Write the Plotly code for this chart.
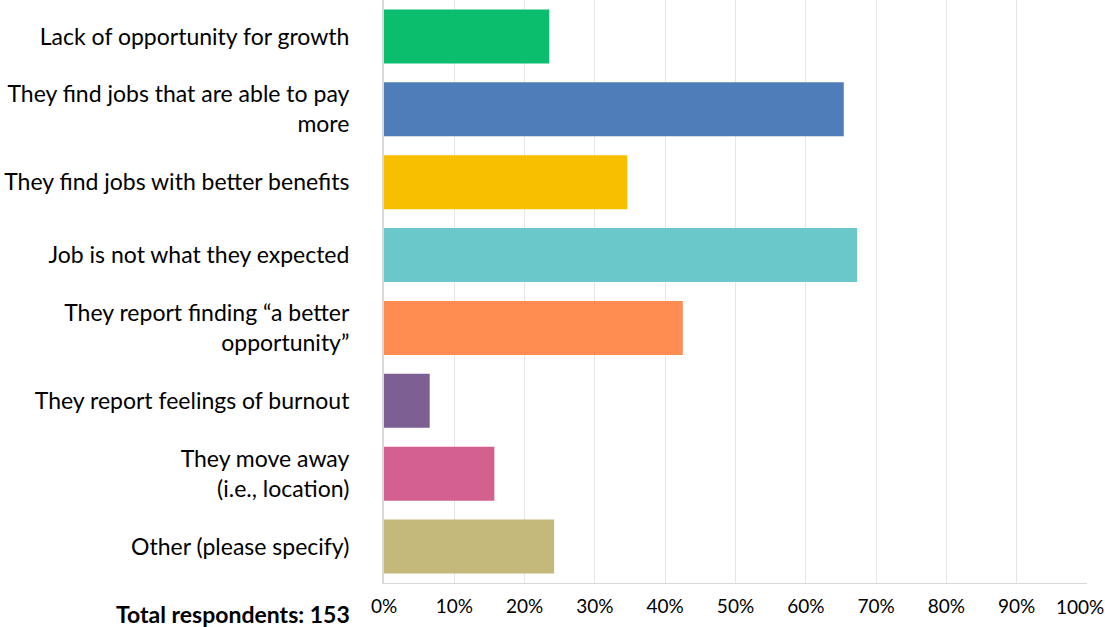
import plotly.graph_objects as go

categories = [
    "Lack of opportunity for growth",
    "They find jobs that are able to pay<br>more",
    "They find jobs with better benefits",
    "Job is not what they expected",
    "They report finding “a better<br>opportunity”",
    "They report feelings of burnout",
    "They move away<br>(i.e., location)",
    "Other (please specify)",
]
shares = [23.5, 65.4, 34.6, 67.3, 42.5, 6.5, 15.7, 24.2]
bar_colors = ["#0BBE6D", "#4F7DB9", "#F8BE00", "#6AC8CB",
              "#FF8C50", "#7E5F94", "#D3608F", "#C4B97A"]
tick_values = [0, 10, 20, 30, 40, 50, 60, 70, 80, 90, 100]
tick_labels = ["0%", "10%", "20%", "30%", "40%", "50%",
               "60%", "70%", "80%", "90%", "100%"]
total_note = "Total respondents: 153"

font_family = "Lato, 'Open Sans', sans-serif"

# the last label sits at the page edge, so it is placed separately
# (nudged left) instead of being drawn as a centred tick label
ticktext = list(tick_labels)
ticktext[-1] = ""

fig = go.Figure(
    go.Bar(
        x=shares,
        y=categories,
        orientation="h",
        marker=dict(color=bar_colors, line=dict(width=0)),
        hoverinfo="x+y",
    )
)

fig.update_layout(
    width=1105,
    height=627,
    margin=dict(l=384, r=18, t=0, b=44, autoexpand=False),
    paper_bgcolor="white",
    plot_bgcolor="white",
    bargap=0.26,
    showlegend=False,
    font=dict(family=font_family, size=23, color="#000000"),
    xaxis=dict(
        range=[0, 100],
        tickvals=tick_values,
        ticktext=ticktext,
        showgrid=True,
        gridcolor="#E6E6E6",
        gridwidth=1,
        zeroline=False,
        showline=True,
        linecolor="#D9D9D9",
        linewidth=1,
        ticks="",
        ticklabelstandoff=6,
        automargin=False,
        tickfont=dict(size=19),
        fixedrange=True,
    ),
    yaxis=dict(
        autorange="reversed",
        automargin=False,
        showline=True,
        linecolor="#D9D9D9",
        linewidth=2,
        ticks="",
        ticklabelstandoff=28,
        tickfont=dict(size=23),
        fixedrange=True,
    ),
    annotations=[
        dict(
            text=f"<b>{total_note}</b>",
            xref="paper", yref="paper",
            x=0, y=0,
            xanchor="right", yanchor="top",
            xshift=-32, yshift=-15,
            showarrow=False,
            font=dict(size=23, color="#000000"),
        ),
        dict(
            text=tick_labels[-1],
            xref="x", yref="paper",
            x=tick_values[-1], y=0,
            xanchor="center", yanchor="middle",
            xshift=-7, yshift=-23,
            showarrow=False,
            font=dict(size=19, color="#000000"),
        ),
    ],
)

fig.write_html("out.html")
